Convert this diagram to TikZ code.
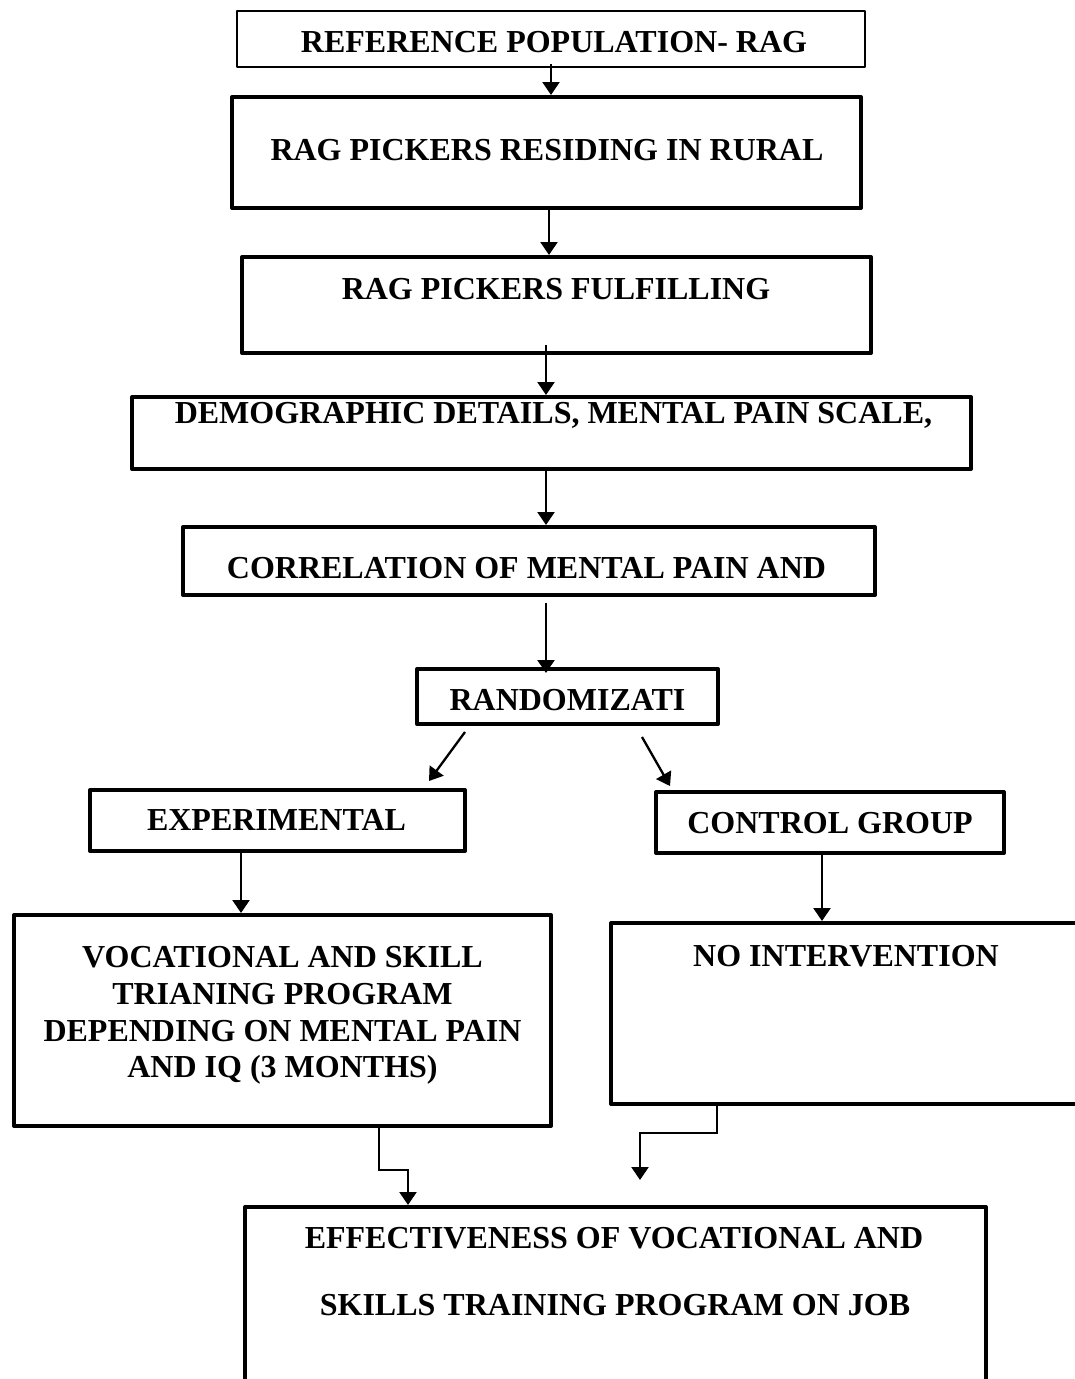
\documentclass[tikz,border=0pt]{standalone}
\usepackage{fontspec}
\setmainfont{Liberation Serif}
\usetikzlibrary{arrows.meta}
\begin{document}
\begin{tikzpicture}[x=1pt,y=-1pt,
  thinbox/.style={draw, line width=1.5pt, inner sep=0pt, rectangle, line join=round},
  thickbox/.style={draw, line width=4pt, inner sep=0pt, rectangle, line join=round},
  lbl/.style={anchor=base, inner sep=0pt, font=\fontsize{32}{36.7}\selectfont\bfseries},
  arr/.style={line width=2.3pt, -{Triangle[length=13pt,width=17pt]}},
  link/.style={line width=2pt}]
\useasboundingbox (0,0) rectangle (1074,1379);
% boxes
\node[thinbox, minimum width=628pt, minimum height=56pt] (b1) at (551,39) {};
\node[thickbox, minimum width=629pt, minimum height=111pt] (b2) at (546.5,152.5) {};
\node[thickbox, minimum width=629pt, minimum height=96pt] (b3) at (556.5,305) {};
\node[thickbox, minimum width=839pt, minimum height=72pt] (b4) at (551.5,433) {};
\node[thickbox, minimum width=692pt, minimum height=68pt] (b5) at (529,561) {};
\node[thickbox, minimum width=301pt, minimum height=55pt] (b6) at (567.5,696.5) {};
\node[thickbox, minimum width=375pt, minimum height=61pt] (b7) at (277.5,820.5) {};
\node[thickbox, minimum width=348pt, minimum height=61pt] (b8) at (830,822.5) {};
\node[thickbox, minimum width=537pt, minimum height=211pt] (b9) at (282.5,1020.5) {};
\node[thickbox, minimum width=472pt, minimum height=181pt] (b10) at (847,1013.5) {};
\node[thickbox, minimum width=741pt, minimum height=193pt] (b11) at (615.5,1303.5) {};
% texts
\node[lbl] (t1) at (554,52) {REFERENCE POPULATION- RAG};
\node[lbl] (t2) at (547,160) {RAG PICKERS RESIDING IN RURAL};
\node[lbl] (t3) at (556,299) {RAG PICKERS FULFILLING};
\node[lbl] (t4) at (553.5,423) {DEMOGRAPHIC DETAILS, MENTAL PAIN SCALE,};
\node[lbl] (t5) at (526.5,578) {CORRELATION OF MENTAL PAIN AND};
\node[lbl] (t6) at (567.5,710) {RANDOMIZATI};
\node[lbl] (t7) at (276.5,830) {EXPERIMENTAL};
\node[lbl] (t8) at (830,833) {CONTROL GROUP};
\node[lbl] (t9a) at (282.5,967) {VOCATIONAL AND SKILL};
\node[lbl] (t9b) at (282.5,1004.5) {TRIANING PROGRAM};
\node[lbl] (t9c) at (282.5,1041) {DEPENDING ON MENTAL PAIN};
\node[lbl] (t9d) at (282.5,1077) {AND IQ (3 MONTHS)};
\node[lbl] (t10) at (846,966) {NO INTERVENTION};
\node[lbl] (t11a) at (614,1248) {EFFECTIVENESS OF VOCATIONAL AND};
\node[lbl] (t11b) at (615,1315) {SKILLS TRAINING PROGRAM ON JOB};
% connectors
\draw[arr] ([yshift=4pt]b1.south) -- (b1.south |- b2.north);
\draw[arr] ([xshift=2.5pt]b2.south) -- ([xshift=2.5pt]b2.south |- b3.north);
\draw[arr] ([xshift=-10.5pt,yshift=10pt]b3.south) -- ([xshift=-10.5pt]b3.south |- b4.north);
\draw[arr] ([xshift=-5.5pt]b4.south) -- ([xshift=-5.5pt]b4.south |- b5.north);
\draw[arr] ([xshift=17pt,yshift=-6pt]b5.south) -- ([xshift=17pt,yshift=-6pt]b5.south |- b6.north);
\draw[arr] ([xshift=50pt,yshift=-6pt]b6.south west) -- ([xshift=-38pt,yshift=7pt]b7.north east);
\draw[arr] ([xshift=-78pt,yshift=-11pt]b6.south east) -- ([xshift=16pt,yshift=4pt]b8.north west);
\draw[arr] ([xshift=-36.5pt]b7.south) -- ([xshift=-36.5pt]b7.south |- b9.north);
\draw[arr] ([xshift=-8pt]b8.south) -- ([xshift=-8pt]b8.south |- b10.north);
\draw[arr] ([xshift=96.5pt]b9.south) -- ++(0,42) -| ([xshift=-207.5pt]b11.north);
\coordinate (e10) at (640,1180);
\draw[arr] ([xshift=-130pt]b10.south) -- ++(0,27) -| (e10);
\end{tikzpicture}
\end{document}
